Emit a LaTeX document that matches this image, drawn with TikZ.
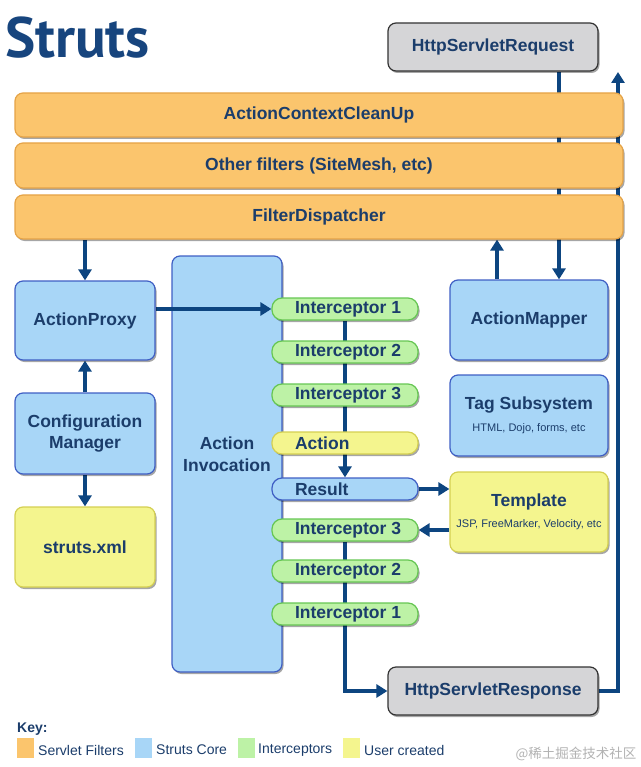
\documentclass[tikz,border=0pt]{standalone}
\usepackage{fontspec}
\setmainfont{Liberation Sans}
\newfontfamily\titlefont{PT Sans}
\newfontfamily\cjkfont{Noto Sans CJK SC}
\usetikzlibrary{arrows.meta,shadows}
\pgfdeclarelayer{back}
\pgfdeclarelayer{mid}
\pgfsetlayers{back,mid,main}
\definecolor{txt}{HTML}{1B3D6B}
\definecolor{arrC}{HTML}{0D4580}
\definecolor{ttl}{HTML}{17457E}
\definecolor{orF}{HTML}{FBC56D}
\definecolor{orD}{HTML}{E5A347}
\definecolor{blF}{HTML}{A8D6F7}
\definecolor{blD}{HTML}{3F5FC4}
\definecolor{grF}{HTML}{BDF2A6}
\definecolor{grD}{HTML}{66C653}
\definecolor{yeF}{HTML}{F4F58E}
\definecolor{yeD}{HTML}{D4CF52}
\definecolor{gyF}{HTML}{D5D5D7}
\definecolor{gyD}{HTML}{333333}
\newcommand\pilltext[1]{\hbox to 100pt{#1\hss}}
\newcommand\subt{\normalfont\fontsize{11}{13}\selectfont}
\tikzset{
  box/.style={draw, rounded corners=8pt, line width=1.2pt, text=txt,
    font=\bfseries\fontsize{17.5}{21}\selectfont, align=center, inner sep=0pt,
    drop shadow={shadow xshift=1.5pt, shadow yshift=-2pt, opacity=0.35, fill=black}},
  filter/.style={box, fill=orF, draw=orD},
  core/.style={box, fill=blF, draw=blD},
  pill/.style={box, rounded corners=10pt, inner xsep=23pt, minimum width=146pt, minimum height=22pt},
  user/.style={box, fill=yeF, draw=yeD},
  ext/.style={box, fill=gyF, draw=gyD},
  arr/.style={draw=arrC, line width=4pt, -{Triangle[width=13pt,length=11pt]}},
  swatch/.style={minimum width=17pt, minimum height=20pt, inner sep=0pt},
  keytext/.style={anchor=west, inner sep=0pt, text=txt, font=\fontsize{14}{16}\selectfont}
}
\begin{document}
\begin{tikzpicture}[x=1pt,y=-1pt]
\useasboundingbox (0,0) rectangle (640,767);
% title
\node[font=\titlefont\bfseries\fontsize{57}{60}\selectfont, text=ttl, anchor=base west, inner sep=0pt] (title) at (5,58) {Struts};
% filters
\node[filter, minimum width=608pt, minimum height=44pt] (acc) at (319,115) {ActionContextCleanUp};
\node[filter, minimum width=608pt, minimum height=45pt] (of) at (319,165.5) {Other filters (SiteMesh, etc)};
\node[filter, minimum width=608pt, minimum height=44pt] (fd) at (319,217) {FilterDispatcher};
% external
\node[ext, minimum width=210pt, minimum height=48pt] (req) at (493,47) {HttpServletRequest};
\node[ext, minimum width=210pt, minimum height=48pt] (resp) at (493,691) {HttpServletResponse};
% left column
\node[core, minimum width=140pt, minimum height=79pt] (ap) at (85,320.5) {ActionProxy};
\node[core, minimum width=140pt, minimum height=81pt] (cm) at (85,433.5) {Configuration\\Manager};
\node[user, minimum width=140pt, minimum height=80pt] (sx) at (85,547) {struts.xml};
% action invocation
\begin{pgfonlayer}{back}
\node[core, minimum width=110pt, minimum height=416pt,
  label={[text=txt, font=\bfseries\fontsize{17.5}{22}\selectfont, align=center, yshift=10pt]center:Action\\Invocation}] (ai) at (227,464) {};
\end{pgfonlayer}
% pills
\node[pill, fill=grF, draw=grD] (i1) at (345,309) {\pilltext{Interceptor 1}};
\node[pill, fill=grF, draw=grD] (i2) at (345,352) {\pilltext{Interceptor 2}};
\node[pill, fill=grF, draw=grD] (i3) at (345,395) {\pilltext{Interceptor 3}};
\node[pill, fill=yeF, draw=yeD] (act) at (345,443) {\pilltext{Action}};
\node[pill, fill=blF, draw=blD] (res) at (345,489) {\pilltext{Result}};
\node[pill, fill=grF, draw=grD] (i3b) at (345,530) {\pilltext{Interceptor 3}};
\node[pill, fill=grF, draw=grD] (i2b) at (345,571) {\pilltext{Interceptor 2}};
\node[pill, fill=grF, draw=grD] (i1b) at (345,614) {\pilltext{Interceptor 1}};
% right column
\node[core, minimum width=158pt, minimum height=80pt] (am) at (529,320) {ActionMapper};
\node[core, minimum width=158pt, minimum height=81pt] (ts) at (529,415.5) {Tag Subsystem\\[1pt]{\subt HTML, Dojo, forms, etc}};
\node[user, minimum width=158pt, minimum height=80pt] (tpl) at (529,512) {Template\\[0pt]{\subt JSP, FreeMarker, Velocity, etc}};
\coordinate (top) at (618,72);
% connectors
\begin{pgfonlayer}{mid}
\draw[arr] (ap.north |- fd.south) -- (ap.north);
\draw[arr] (cm.north) -- (ap.south);
\draw[arr] (cm.south) -- (sx.north);
\draw[arr] (ap.east |- i1.west) -- (i1.west);
\draw[arr] ([xshift=66pt]req.south) -- ([xshift=66pt]req.south |- am.north);
\draw[arr] ([xshift=-32pt]am.north) -- ([xshift=-32pt]am.north |- fd.south);
\draw[arr] (i1.south) -- (res.north);
\draw[arr] (res.east) -- (res.east -| tpl.west);
\draw[arr] (tpl.west |- i3b.east) -- (i3b.east);
\draw[arr] (i3b.south) -- (i3b.south |- resp.west) -- (resp.west);
\draw[arr] (resp.east) -| (top);
\end{pgfonlayer}
% key
\node[anchor=west, inner sep=0pt, text=txt, font=\bfseries\fontsize{14}{16}\selectfont] (key) at (17,729) {Key:};
\node[swatch, fill=orF] (k1) at (25,748) {};
\node[keytext] (k1t) at (38,750) {Servlet Filters};
\node[swatch, fill=blF] (k2) at (143.5,748) {};
\node[keytext] (k2t) at (156,750) {Struts Core};
\node[swatch, fill=grF] (k3) at (246,748) {};
\node[keytext] (k3t) at (258,750) {Interceptors};
\node[swatch, fill=yeF] (k4) at (351,748) {};
\node[keytext] (k4t) at (364,750) {User created};
% watermark
\node[text=black!30, font=\cjkfont\fontsize{13.5}{15}\selectfont, inner sep=0pt] (wm) at (576,754) {@稀土掘金技术社区};
\end{tikzpicture}
\end{document}
